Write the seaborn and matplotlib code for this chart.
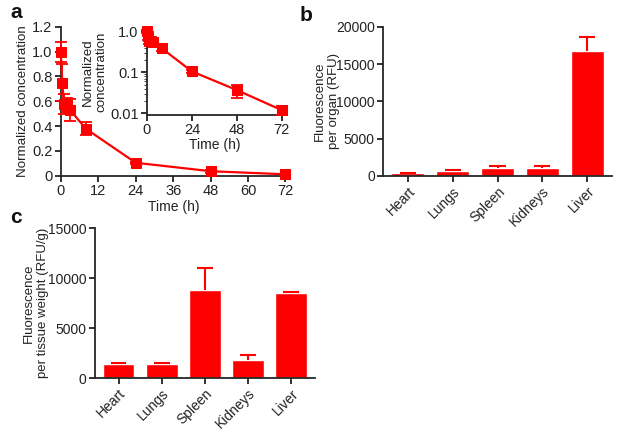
import numpy as np
import pandas as pd
import matplotlib.pyplot as plt
import seaborn as sns

# pharmacokinetics (panel a)
time_h = [0, 0.5, 1, 2, 3, 8, 24, 48, 72]
conc = [1.0, 0.75, 0.58, 0.57, 0.53, 0.38, 0.105, 0.037, 0.012]
conc_err = [0.08, 0.15, 0.08, 0.06, 0.09, 0.05, 0.01, 0.013, 0.003]

# biodistribution (panels b and c)
organs = ['Heart', 'Lungs', 'Spleen', 'Kidneys', 'Liver']
per_organ = [360, 670, 1030, 1100, 16700]
per_organ_err = [50, 60, 350, 250, 2000]
per_weight = [1400, 1400, 8800, 1850, 8500]
per_weight_err = [60, 60, 2200, 450, 100]

RED = '#ff0000'

sns.set_style('ticks')
plt.rcParams['font.family'] = ['Liberation Sans', 'DejaVu Sans']
plt.rcParams['font.size'] = 10
plt.rcParams['axes.linewidth'] = 1.3
plt.rcParams['xtick.major.width'] = 1.3
plt.rcParams['ytick.major.width'] = 1.3
plt.rcParams['xtick.major.size'] = 4
plt.rcParams['ytick.major.size'] = 4
plt.rcParams['xtick.major.pad'] = 2
plt.rcParams['ytick.major.pad'] = 2
plt.rcParams['xtick.color'] = '#222222'
plt.rcParams['ytick.color'] = '#222222'
plt.rcParams['axes.labelcolor'] = '#222222'

fig = plt.figure(figsize=(6.2, 4.33), dpi=100)

pk = pd.DataFrame({'Time (h)': time_h, 'conc': conc, 'err': conc_err})


def pk_plot(ax):
    sns.lineplot(data=pk, x='Time (h)', y='conc', ax=ax, color=RED, lw=1.6,
                 marker='s', markersize=6.5, markeredgecolor=RED, clip_on=False,
                 zorder=3)
    ax.errorbar(pk['Time (h)'], pk['conc'], yerr=pk['err'], fmt='none',
                ecolor=RED, elinewidth=1.3, capsize=4, capthick=1.3,
                clip_on=False, zorder=3)
    sns.despine(ax=ax)
    ax.tick_params(labelsize=10.5)


# panel a
ax_a = fig.add_axes([0.098, 0.594, 0.365, 0.344])
pk_plot(ax_a)
ax_a.set_xlim(0, 72.5)
ax_a.set_ylim(0, 1.2)
ax_a.set_xticks(range(0, 73, 12))
ax_a.set_yticks([0, 0.2, 0.4, 0.6, 0.8, 1.0, 1.2])
ax_a.set_yticklabels(['0', '0.2', '0.4', '0.6', '0.8', '1.0', '1.2'])
ax_a.set_xlabel('Time (h)', labelpad=1, fontsize=10)
ax_a.set_ylabel('Normalized concentration', labelpad=2, fontsize=9.6)

# inset (log scale)
ax_in = fig.add_axes([0.237, 0.735, 0.219, 0.197])
pk_plot(ax_in)
ax_in.set_yscale('log')
ax_in.set_xlim(0, 72.5)
ax_in.set_ylim(0.0093, 1.1)
ax_in.set_xticks([0, 24, 48, 72])
ax_in.set_yticks([1.0, 0.1, 0.01])
ax_in.set_yticklabels(['1.0', '0.1', '0.01'])
ax_in.set_xlabel('Time (h)', labelpad=1, fontsize=10)
ax_in.set_ylabel('Normalized\nconcentration', labelpad=2, fontsize=9.6)
ax_in.patch.set_alpha(0)


def bar_plot(ax, values, errors, ylabel, ymax, step, label_x):
    df = pd.DataFrame({'organ': organs, 'value': values})
    sns.barplot(data=df, x='organ', y='value', ax=ax, color=RED,
                saturation=1, width=0.73, errorbar=None)
    xs = np.arange(len(organs))
    tops = np.array(values) + np.array(errors)
    ax.vlines(xs, values, tops, color=RED, lw=1.5)
    ax.hlines(tops, xs - 0.18, xs + 0.18, color=RED, lw=1.5)
    sns.despine(ax=ax)
    ax.set_ylim(0, ymax)
    ax.set_xlim(-0.55, 4.55)
    ax.set_yticks(np.arange(0, ymax + 1, step))
    ax.set_xlabel('')
    ax.set_ylabel(ylabel, fontsize=9.5)
    ax.yaxis.set_label_coords(label_x, 0.5)
    ax.tick_params(labelsize=10)
    for lab in ax.get_xticklabels():
        lab.set_rotation(45)
        lab.set_ha('right')
        lab.set_rotation_mode('anchor')


# panel b
ax_b = fig.add_axes([0.618, 0.594, 0.369, 0.344])
bar_plot(ax_b, per_organ, per_organ_err, 'Fluorescence\nper organ (RFU)',
         20000, 5000, -0.19)

# panel c
ax_c = fig.add_axes([0.153, 0.127, 0.355, 0.346])
bar_plot(ax_c, per_weight, per_weight_err, 'Fluorescence\nper tissue weight (RFU/g)',
         15000, 5000, -0.21)

for letter, x, y in [('a', 0.016, 0.97), ('b', 0.483, 0.965), ('c', 0.016, 0.497)]:
    fig.text(x, y, letter, fontsize=15, fontweight='bold', va='center', color='#111111')

fig.savefig('out.png', dpi=100)
